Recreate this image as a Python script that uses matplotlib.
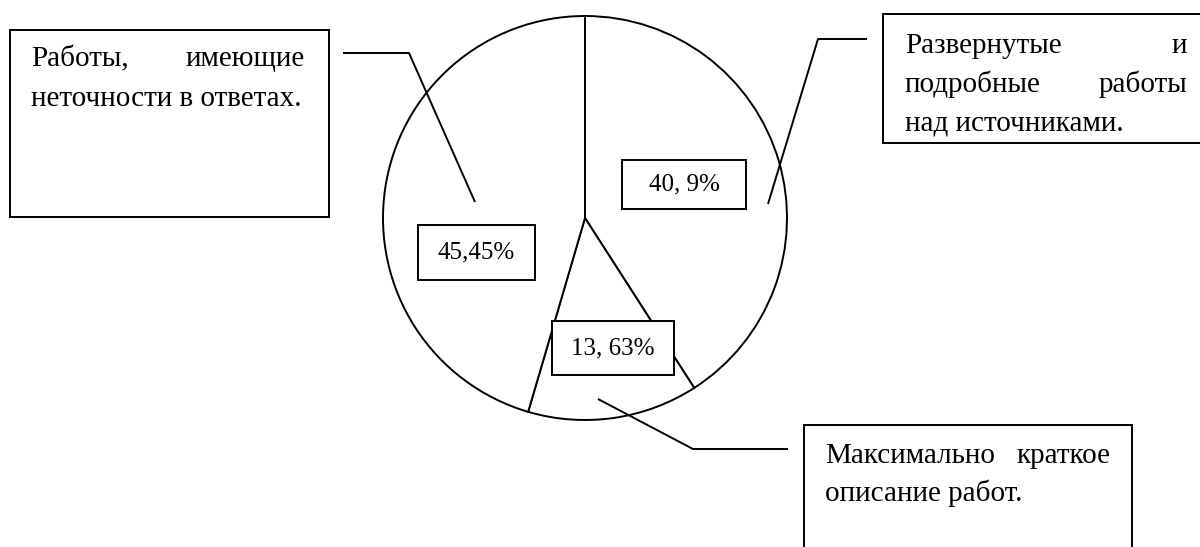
import matplotlib
matplotlib.use("Agg")
import matplotlib.pyplot as plt
from matplotlib.patches import Rectangle

# ---- data ----
shares = [40.9, 13.63, 45.45]            # clockwise from the top
share_labels = ["40, 9%", "13, 63%", "45,45%"]
categories = [
    "Развернутые и подробные работы над источниками.",
    "Максимально краткое описание работ.",
    "Работы, имеющие неточности в ответах.",
]

W, H = 1200, 547
FONT = "Liberation Serif"

fig = plt.figure(figsize=(12, 5.47), dpi=100)
ax = fig.add_axes([0, 0, 1, 1])

# ---- pie ----
ax.pie(shares, startangle=90, counterclock=False, radius=202, center=(585, H - 218),
       wedgeprops=dict(facecolor="white", edgecolor="black", linewidth=1.4))

ax.set_xlim(0, W)
ax.set_ylim(0, H)
ax.set_aspect("equal")
ax.axis("off")

LW = 1.4


def rect(x0, y0, x1, y1):
    ax.add_patch(Rectangle((x0, H - y1), x1 - x0, y1 - y0, facecolor="white",
                           edgecolor="black", linewidth=LW, zorder=5))


def line(pts):
    xs = [p[0] for p in pts]
    ys = [H - p[1] for p in pts]
    ax.plot(xs, ys, color="black", linewidth=LW, zorder=4, solid_capstyle="butt")


# ---- percentage boxes ----
pct_boxes = [(622, 160, 746, 209), (552, 321, 674, 375), (418, 225, 535, 280)]
for (x0, y0, x1, y1), lab in zip(pct_boxes, share_labels):
    rect(x0, y0, x1, y1)
    ax.text((x0 + x1) / 2, H - (y0 + y1) / 2, lab, ha="center", va="center",
            fontsize=18, family=FONT, zorder=6)

# ---- leader lines ----
line([(867, 39), (818, 39), (768, 204)])
line([(788, 449), (693, 449), (598, 399)])
line([(343, 53), (409, 53), (475, 202)])

# ---- category boxes ----
rect(883, 14, 1210, 143)
rect(804, 425, 1132, 560)
rect(10, 30, 329, 217)


def jline(words, x0, x1, base, fs):
    ax.text(x0, H - base, words[0], ha="left", va="baseline", fontsize=fs,
            family=FONT, zorder=6)
    if len(words) > 1:
        ax.text(x1, H - base, words[-1], ha="right", va="baseline", fontsize=fs,
                family=FONT, zorder=6)


def nline(txt, x0, base, fs):
    ax.text(x0, H - base, txt, ha="left", va="baseline", fontsize=fs,
            family=FONT, zorder=6)


FS = 21
# right box
w = categories[0].split()
jline([w[0], w[1]], 905, 1187, 53, FS)
jline([w[2], w[3]], 905, 1187, 92, FS)
nline(" ".join(w[4:]), 905, 130, FS)

# bottom box
w = categories[1].split()
jline([w[0], w[1]], 825, 1111, 463, FS)
nline(" ".join(w[2:]), 825, 501, FS)

# left box
w = categories[2].split()
jline([w[0], w[1]], 31, 305, 66, FS)
nline(" ".join(w[2:]), 31, 106, FS)

fig.savefig("out.png", dpi=100)
